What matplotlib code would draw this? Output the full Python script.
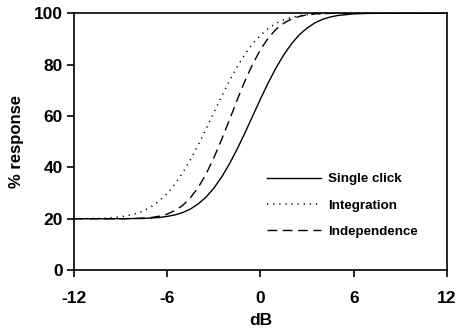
import numpy as np
import matplotlib
matplotlib.use("Agg")
import matplotlib.pyplot as plt

plt.rcParams['font.family'] = ['Liberation Sans', 'DejaVu Sans']
plt.rcParams['font.weight'] = 'bold'
plt.rcParams['axes.unicode_minus'] = False

# values (dB vs % response)
db = [-12, -10, -9, -8, -7.5, -7, -6.5, -6, -5.5, -5, -4.5, -4, -3.5, -3, -2.5, -2,
      -1.5, -1, -0.5, 0, 0.5, 1, 1.5, 2, 2.5, 3, 3.5, 4, 4.5, 5, 6, 7, 8, 12]
single_click = [20, 20, 20, 20.1, 20.1, 20.3, 20.5, 20.9, 21.5, 22.4, 23.8, 25.8, 28.4, 31.9,
                36.2, 41.3, 47.1, 53.4, 60.0, 66.6, 72.9, 78.7, 83.8, 88.1, 91.6, 94.2,
                96.2, 97.6, 98.5, 99.1, 99.7, 99.9, 100, 100]
integration = [20, 20.2, 20.7, 22.0, 23.1, 24.8, 27.0, 29.8, 33.5, 37.9, 43.0, 48.8, 54.9, 61.3,
               67.6, 73.6, 79.1, 84.0, 88.1, 91.4, 94.0, 96.0, 97.4, 98.3, 99.0, 99.4,
               99.7, 99.8, 99.9, 100, 100, 100, 100, 100]
independence = [20, 20, 20, 20.1, 20.3, 20.5, 21.0, 21.8, 23.2, 25.2, 28.2, 32.2, 37.4, 43.7,
                50.8, 58.4, 66.2, 73.6, 80.2, 85.8, 90.3, 93.7, 96.1, 97.7, 98.7, 99.3,
                99.7, 99.8, 99.9, 100, 100, 100, 100, 100]

xticks = [-12, -6, 0, 6, 12]
yticks = [0, 20, 40, 60, 80, 100]

fig = plt.figure(figsize=(4.59, 3.36), dpi=100)
ax = fig.add_axes([0.161, 0.196, 0.813, 0.765])

ax.plot(db, single_click, color='k', lw=1.0, label='Single click')
ax.plot(db, integration, color='k', lw=1.1, dashes=(0.8, 3.2), label='Integration')
ax.plot(db, independence, color='k', lw=1.0, dashes=(7, 4), label='Independence')

ax.set_xlim(-12, 12)
ax.set_ylim(0, 100)
ax.set_xticks(xticks)
ax.set_yticks(yticks)
ax.tick_params(direction='out', length=5, width=1.2, labelsize=12.5)
ax.tick_params(axis='x', pad=10)
ax.tick_params(axis='y', pad=3)
for s in ax.spines.values():
    s.set_linewidth(1.2)

ax.set_xlabel('dB', fontsize=12.5, fontweight='bold', labelpad=5)
ax.set_ylabel('% response', fontsize=12, fontweight='bold', labelpad=7)

leg = ax.legend(loc='upper left', bbox_to_anchor=(0.517, 0.378), frameon=False,
                borderpad=0, borderaxespad=0, handlelength=4.1, handletextpad=0.5,
                labelspacing=1.05, prop={'size': 9.6, 'weight': 'bold'})

fig.savefig('out.png', dpi=100)
